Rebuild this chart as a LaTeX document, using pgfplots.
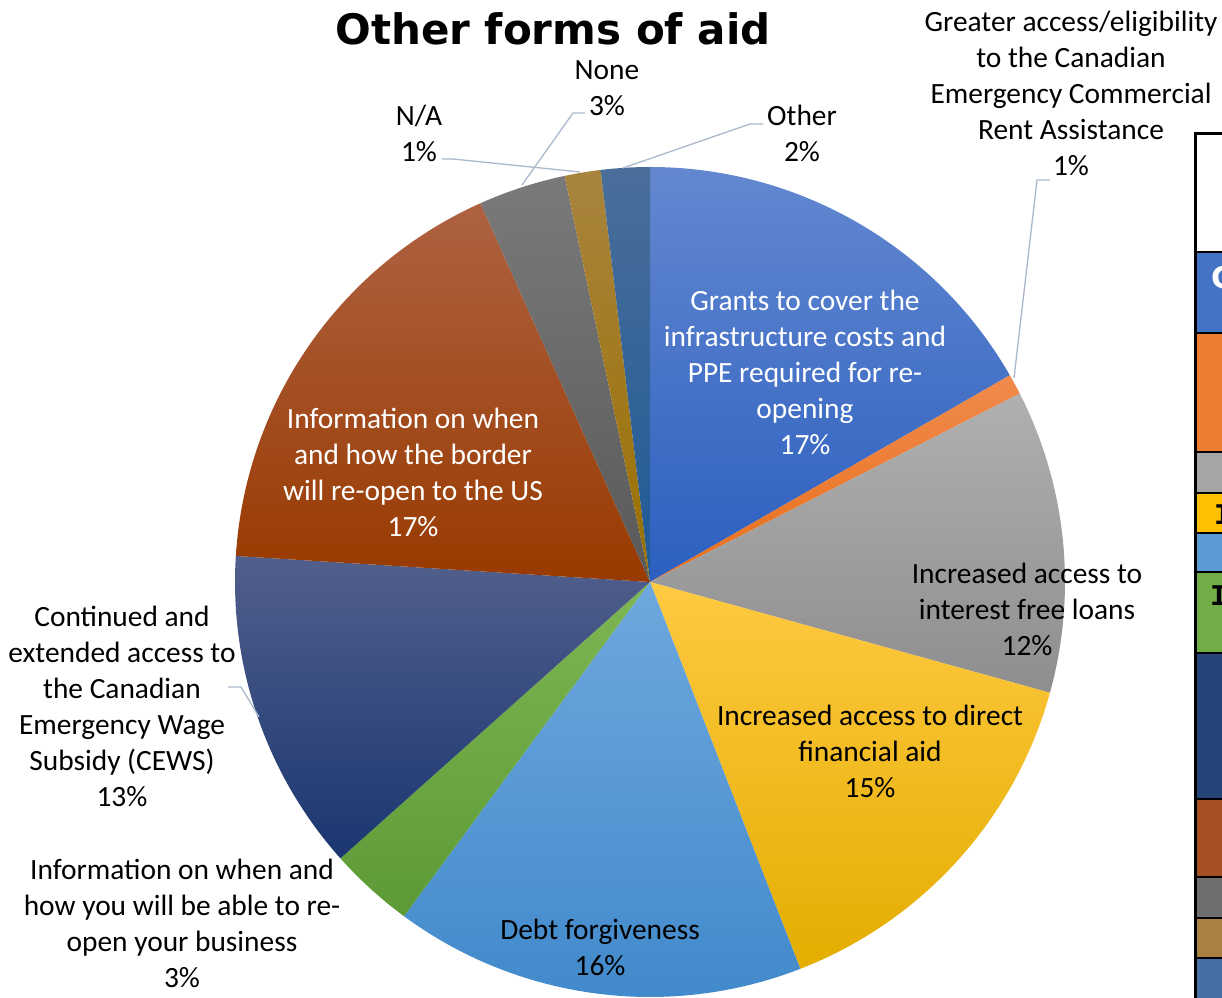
\documentclass[border=0pt]{standalone}
\usepackage{pgfplots}
\usepackage{pgfplotstable}
\pgfplotsset{compat=1.18}
\usepackage{fontspec}
\setmainfont{Carlito}
\newfontfamily\titlefont{DejaVu Sans}
\newfontfamily\monofont{Liberation Mono}

% slice colours (top / bottom of the gradient)
\definecolor{grantsT}{HTML}{6388D0}\definecolor{grantsB}{HTML}{2C5FC0}
\definecolor{greaterT}{HTML}{F08A4C}\definecolor{greaterB}{HTML}{E86F1A}
\definecolor{loansT}{HTML}{B0B0B0}\definecolor{loansB}{HTML}{8E8E8E}
\definecolor{directT}{HTML}{FFC942}\definecolor{directB}{HTML}{E4AD00}
\definecolor{debtT}{HTML}{6EA8DE}\definecolor{debtB}{HTML}{3F88CA}
\definecolor{reopenT}{HTML}{7EB654}\definecolor{reopenB}{HTML}{5C9A35}
\definecolor{cewsT}{HTML}{525F8C}\definecolor{cewsB}{HTML}{1A3670}
\definecolor{borderT}{HTML}{AE6242}\definecolor{borderB}{HTML}{983A00}
\definecolor{noneT}{HTML}{7A7A7A}\definecolor{noneB}{HTML}{595959}
\definecolor{naT}{HTML}{A8843E}\definecolor{naB}{HTML}{9A7000}
\definecolor{otherT}{HTML}{4A6E9A}\definecolor{otherB}{HTML}{1F5A96}
\definecolor{leader}{HTML}{A9B8CC}
% table colours
\definecolor{tb1}{HTML}{4472C4}\definecolor{tb2}{HTML}{ED7D31}
\definecolor{tb3}{HTML}{A5A5A5}\definecolor{tb4}{HTML}{FFC000}
\definecolor{tb5}{HTML}{5B9BD5}\definecolor{tb6}{HTML}{70AD47}
\definecolor{tb7}{HTML}{264478}\definecolor{tb8}{HTML}{A65124}
\definecolor{tb9}{HTML}{6E6E6E}\definecolor{tb10}{HTML}{A88040}
\definecolor{tb11}{HTML}{466FA6}

% values in percent, clockwise from 12 o'clock
\pgfplotstableread{
value top bottom
16.7 grantsT grantsB
0.8 greaterT greaterB
11.8 loansT loansB
14.8 directT directB
16.0 debtT debtB
3.3 reopenT reopenB
12.6 cewsT cewsB
17.3 borderT borderB
3.4 noneT noneB
1.4 naT naB
1.9 otherT otherB
}\piedata

\begin{document}
\begin{tikzpicture}[lbl/.style={align=center, font=\fontsize{29.4}{36}\selectfont, inner sep=0pt}]
\begin{axis}[x=1pt, y=1pt, xmin=0, xmax=1222, ymin=0, ymax=997, hide axis, clip=false]
\coordinate (BL) at (axis cs:0,0);
\coordinate (TR) at (axis cs:1222,997);
\pgfplotstablegetrowsof{\piedata}
\pgfmathtruncatemacro\lastrow{\pgfplotsretval-1}
\def\angstart{90}
\pgfplotsforeachungrouped \i in {0,...,\lastrow}{%
  \pgfplotstablegetelem{\i}{value}\of\piedata \let\v\pgfplotsretval
  \pgfplotstablegetelem{\i}{top}\of\piedata \let\ct\pgfplotsretval
  \pgfplotstablegetelem{\i}{bottom}\of\piedata \let\cb\pgfplotsretval
  \pgfmathsetmacro\angend{\angstart-3.6*\v}%
  \edef\temp{\noexpand\shade[top color=\ct, bottom color=\cb] (axis cs:650,415) -- ++(\angstart:415pt) arc[start angle=\angstart, end angle=\angend, radius=415pt] -- cycle;}%
  \temp
  \let\angstart\angend
}

% leader lines
\draw[leader, line width=1.3pt] (axis cs:522,812) -- (axis cs:573,884) -- (axis cs:585,884);
\draw[leader, line width=1.3pt] (axis cs:442,838) -- (axis cs:453,838) -- (axis cs:580,825);
\draw[leader, line width=1.3pt] (axis cs:763,873) -- (axis cs:750,873) -- (axis cs:623,829);
\draw[leader, line width=1.3pt] (axis cs:1014,619) -- (axis cs:1037,817) -- (axis cs:1050,817);
\draw[leader, line width=1.3pt] (axis cs:228,310) -- (axis cs:241,310) -- (axis cs:259,280);

% labels
\node[lbl, text=white] at (axis cs:805,625) {Grants to cover the\\infrastructure costs and\\PPE required for re-\\opening\\17\%};
\node[lbl] at (axis cs:1071,904) {Greater access/eligibility\\to the Canadian\\Emergency Commercial\\Rent Assistance\\1\%};
\node[lbl] at (axis cs:1027,388) {Increased access to\\interest free loans\\12\%};
\node[lbl] at (axis cs:870,246) {Increased access to direct\\financial aid\\15\%};
\node[lbl] at (axis cs:600,50) {Debt forgiveness\\16\%};
\node[lbl] at (axis cs:182,74) {Information on when and\\how you will be able to re-\\open your business\\3\%};
\node[lbl] at (axis cs:122,291) {Continued and\\extended access to\\the Canadian\\Emergency Wage\\Subsidy (CEWS)\\13\%};
\node[lbl, text=white] at (axis cs:413,525) {Information on when\\and how the border\\will re-open to the US\\17\%};
\node[lbl] at (axis cs:419,864) {N/A\\1\%};
\node[lbl] at (axis cs:607,909) {None\\3\%};
\node[lbl] at (axis cs:802,864) {Other\\2\%};
\node[inner sep=0pt, font=\titlefont\bfseries\fontsize{42}{50}\selectfont] at (axis cs:553,968) {Other forms of aid};

% cropped table at the right edge
\fill[white] (axis cs:1195,745) rectangle (axis cs:1260,863);
\fill[tb1] (axis cs:1195,664) rectangle (axis cs:1260,745);
\fill[tb2] (axis cs:1195,545) rectangle (axis cs:1260,664);
\fill[tb3] (axis cs:1195,504) rectangle (axis cs:1260,545);
\fill[tb4] (axis cs:1195,464) rectangle (axis cs:1260,504);
\fill[tb5] (axis cs:1195,425) rectangle (axis cs:1260,464);
\fill[tb6] (axis cs:1195,344) rectangle (axis cs:1260,425);
\fill[tb7] (axis cs:1195,198) rectangle (axis cs:1260,344);
\fill[tb8] (axis cs:1195,120) rectangle (axis cs:1260,198);
\fill[tb9] (axis cs:1195,79) rectangle (axis cs:1260,120);
\fill[tb10] (axis cs:1195,39) rectangle (axis cs:1260,79);
\fill[tb11] (axis cs:1195,-10) rectangle (axis cs:1260,39);
\draw[black, line width=2pt] (axis cs:1195,745) -- (axis cs:1260,745);
\draw[black, line width=2pt] (axis cs:1195,664) -- (axis cs:1260,664);
\draw[black, line width=2pt] (axis cs:1195,545) -- (axis cs:1260,545);
\draw[black, line width=2pt] (axis cs:1195,504) -- (axis cs:1260,504);
\draw[black, line width=2pt] (axis cs:1195,464) -- (axis cs:1260,464);
\draw[black, line width=2pt] (axis cs:1195,425) -- (axis cs:1260,425);
\draw[black, line width=2pt] (axis cs:1195,344) -- (axis cs:1260,344);
\draw[black, line width=2pt] (axis cs:1195,198) -- (axis cs:1260,198);
\draw[black, line width=2pt] (axis cs:1195,120) -- (axis cs:1260,120);
\draw[black, line width=2pt] (axis cs:1195,79) -- (axis cs:1260,79);
\draw[black, line width=2pt] (axis cs:1195,39) -- (axis cs:1260,39);
\draw[black, line width=3pt] (axis cs:1260,863) -- (axis cs:1195,863) -- (axis cs:1195,-10);
\node[anchor=west, inner sep=0pt, text=white, font=\titlefont\bfseries\fontsize{30}{30}\selectfont] at (axis cs:1211,719) {C};
\node[anchor=west, inner sep=0pt, font=\monofont\bfseries\fontsize{30}{30}\selectfont] at (axis cs:1214,482) {I};
\node[anchor=west, inner sep=0pt, font=\monofont\bfseries\fontsize{30}{30}\selectfont] at (axis cs:1210,401) {I};
\end{axis}
\pgfresetboundingbox
\useasboundingbox (BL) rectangle (TR);
\end{tikzpicture}
\end{document}
